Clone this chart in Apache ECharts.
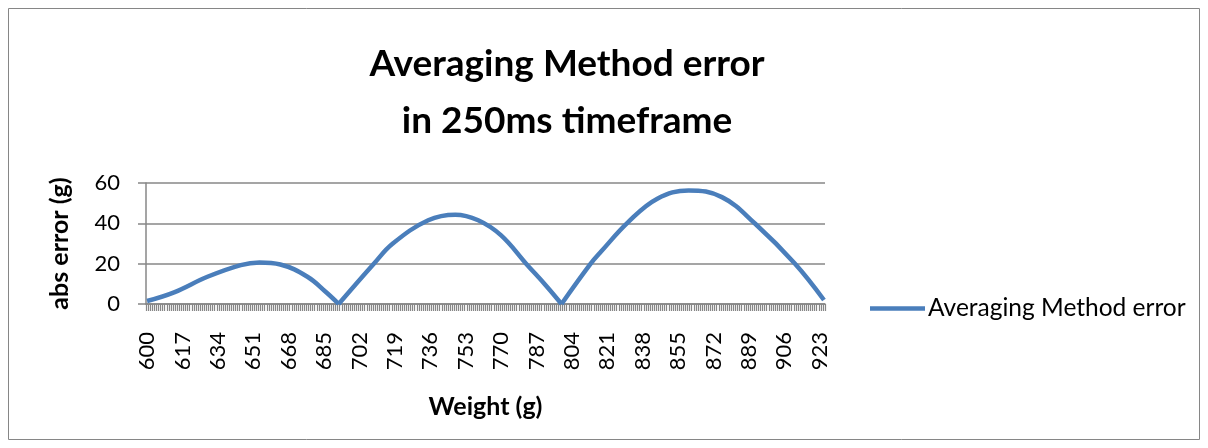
<!DOCTYPE html>
<html>
<head>
<meta charset="utf-8">
<script src="https://cdn.jsdelivr.net/npm/echarts@6/dist/echarts.min.js"></script>
<style>
html,body{margin:0;padding:0;background:#fff;}
#main{width:1208px;height:448px;}
</style>
</head>
<body>
<div id="main"></div>
<script>
// Tick labels / categories: weight in grams, one per gram
const weightStart = 600;
const weightEnd = 925;
const categories = [];
for (let w = weightStart; w <= weightEnd; w++) categories.push(String(w));

// Values (weight g, abs error g), one array per arch
const arch1Weights = [600, 613, 629, 645, 654, 664, 677, 686, 692];
const arch1Errors  = [1.5, 5.8, 13.5, 19.3, 20.6, 19.6, 13.5, 5.8, 0];
const arch2Weights = [692, 709, 718, 735, 748, 759, 770, 782, 792, 799];
const arch2Errors  = [0, 20.1, 30, 41.5, 44.3, 41.5, 34, 20, 8.6, 0];
const arch3Weights = [799, 813, 818, 831, 845, 860, 876, 892, 911, 925];
const arch3Errors  = [0, 20, 26, 40.6, 52.2, 56.3, 53, 39.8, 20.1, 2];

const yTicks = [0, 20, 40, 60];
const seriesName = 'Averaging Method error';

function pairs(ws, vs) { return ws.map((w, i) => [String(w), vs[i]]); }

const FONT = 'Lato, "Open Sans", sans-serif';
const GRID = '#878787';
const BLUE = '#4a7ebb';

function lineSeries(ws, vs) {
  return {
    name: seriesName,
    type: 'line',
    data: pairs(ws, vs),
    smooth: 0.4,
    symbol: 'none',
    lineStyle: { color: BLUE, width: 4.5, join: 'miter' },
    itemStyle: { color: BLUE },
    animation: false
  };
}

const chart = echarts.init(document.getElementById('main'), null, { renderer: 'canvas' });
chart.setOption({
  backgroundColor: '#ffffff',
  animation: false,
  graphic: [{
    type: 'rect',
    shape: { x: 8.5, y: 8.5, width: 1191, height: 431 },
    style: { fill: 'none', stroke: '#868686', lineWidth: 1 },
    silent: true
  }],
  title: {
    text: 'Averaging Method error\nin 250ms timeframe',
    left: 562,
    top: 31,
    textAlign: 'center',
    textStyle: { fontFamily: FONT, fontWeight: 'bold', fontSize: 37, lineHeight: 57, color: '#000' }
  },
  legend: {
    data: [{ name: seriesName, icon: 'rect' }],
    left: 865,
    top: 291,
    itemWidth: 55,
    itemHeight: 4.5,
    itemGap: 10,
    itemStyle: { color: BLUE, borderWidth: 0 },
    textStyle: { fontFamily: FONT, fontSize: 24.5, color: '#000', padding: [0, 0, 0, -2] }
  },
  grid: { left: 146, right: 383, top: 183, bottom: 144, containLabel: false },
  xAxis: {
    type: 'category',
    data: categories,
    boundaryGap: true,
    name: 'Weight (g)',
    nameLocation: 'middle',
    nameGap: 90,
    nameTextStyle: { fontFamily: FONT, fontWeight: 'bold', fontSize: 25, color: '#000' },
    axisLine: { show: true, lineStyle: { color: GRID, width: 1.5 } },
    axisTick: { show: true, interval: 0, length: 7, lineStyle: { color: GRID, width: 1.2 } },
    axisLabel: { interval: 16, rotate: 90, margin: 28, fontFamily: FONT, fontSize: 22, color: '#000' },
    splitLine: { show: false }
  },
  yAxis: {
    type: 'value',
    min: yTicks[0],
    max: yTicks[yTicks.length - 1],
    interval: yTicks[1] - yTicks[0],
    name: 'abs error (g)',
    nameLocation: 'middle',
    nameGap: 74,
    nameRotate: 90,
    nameTextStyle: { fontFamily: FONT, fontWeight: 'bold', fontSize: 25, color: '#000' },
    axisLine: { show: true, lineStyle: { color: GRID, width: 1.5 } },
    axisTick: { show: true, inside: false, length: 8, lineStyle: { color: GRID, width: 1.5 } },
    axisLabel: { margin: 26, fontFamily: FONT, fontSize: 22, color: '#000' },
    splitLine: { show: true, lineStyle: { color: GRID, width: 1.5 } }
  },
  series: [
    lineSeries(arch1Weights, arch1Errors),
    lineSeries(arch2Weights, arch2Errors),
    lineSeries(arch3Weights, arch3Errors)
  ]
});
</script>
</body>
</html>
